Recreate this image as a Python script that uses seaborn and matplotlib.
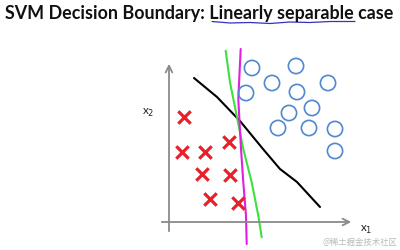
import numpy as np
import pandas as pd
import matplotlib
matplotlib.use("Agg")
import matplotlib.pyplot as plt
import seaborn as sns

# ---- data (feature space x1, x2) ----
neg_x1 = [1.5, 1.3, 3.6, 6.0, 3.3, 6.1, 4.1, 6.9]
neg_x2 = [10.5, 7.0, 7.0, 8.0, 4.8, 4.7, 2.3, 1.9]

pos_x1 = [8.3, 12.7, 10.3, 15.9, 7.7, 12.8, 14.3, 12.0, 10.9, 14.0, 16.6, 16.6]
pos_x2 = [15.4, 15.6, 13.9, 13.9, 12.9, 13.0, 11.4, 10.9, 9.4, 9.4, 9.3, 7.1]

black_x1 = [2.5, 4.8, 7.1, 9.4, 11.1, 12.8, 15.1]
black_x2 = [14.4, 12.5, 10.1, 7.3, 5.3, 4.0, 1.5]

green_x1 = [5.67, 6.1, 6.77, 7.43, 8.27, 8.93, 9.27]
green_x2 = [17.13, 13.97, 10.63, 7.3, 3.97, 0.63, -1.53]

magenta_x1 = [7.17, 6.93, 6.93, 7.2, 7.43, 7.7, 7.77]
magenta_x2 = [17.3, 13.97, 10.63, 7.3, 3.97, 0.63, -2.2]

title = "SVM Decision Boundary: Linearly separable case"

sns.set_theme(style="white")
plt.rcParams['font.family'] = ['Lato', 'Noto Sans CJK SC', 'DejaVu Sans']

fig = plt.figure(figsize=(4.0, 2.51), dpi=100)
ax = fig.add_axes([0, 0, 1, 1])
ax.set_xlim(-16.9, 23.1)
ax.set_ylim(-2.8, 22.3)
ax.axis("off")

neg = pd.DataFrame({"x1": neg_x1, "x2": neg_x2})
pos = pd.DataFrame({"x1": pos_x1, "x2": pos_x2})

# axes arrows
ax.annotate("", xy=(18.5, 0), xytext=(-1.0, 0),
            arrowprops=dict(arrowstyle="->", color="#8a8a8a", lw=1.3))
ax.annotate("", xy=(0, 16.1), xytext=(0, -1.2),
            arrowprops=dict(arrowstyle="->", color="#8a8a8a", lw=1.3))

sns.lineplot(x=black_x1, y=black_x2, sort=False, color="black", lw=1.5, ax=ax)
sns.lineplot(x=green_x1, y=green_x2, sort=False, color="#3ee03e", lw=1.5, ax=ax)
sns.lineplot(x=magenta_x1, y=magenta_x2, sort=False, color="#e020e0", lw=1.5, ax=ax)

sns.scatterplot(data=neg, x="x1", y="x2", marker="x", s=80, color="#e8202a",
                linewidth=2.3, ax=ax, zorder=5)
sns.scatterplot(data=pos, x="x1", y="x2", marker="o", s=120, facecolor="none",
                edgecolor="#4f88cc", linewidth=1.2, ax=ax, zorder=5)

ax.text(-2.1, 11.0, r"x$_2$", fontsize=8.5, ha="center", va="center", color="#222222")
ax.text(19.7, -0.7, r"x$_1$", fontsize=8.5, ha="center", va="center", color="#222222")

fig.text(5 / 400, 1 - 18.5 / 251, title, fontsize=12.9, fontweight="bold",
         ha="left", va="baseline", color="#111111")
# hand-drawn underline
ux = np.array([212, 230, 250, 270, 290, 310, 330, 355]) / 400
uy = 1 - np.array([22.5, 24, 23.5, 24.5, 23, 23.5, 22.5, 22.5]) / 251
fig.add_artist(plt.Line2D(ux, uy, color="#3333bb", lw=0.9))

fig.text(397 / 400, 1 - 242 / 251, "@稀土掘金技术社区", fontsize=6,
         ha="right", va="center", color="#bbbbbb",
         family=["Noto Sans CJK SC", "DejaVu Sans"])

fig.savefig("out.png", dpi=100)
